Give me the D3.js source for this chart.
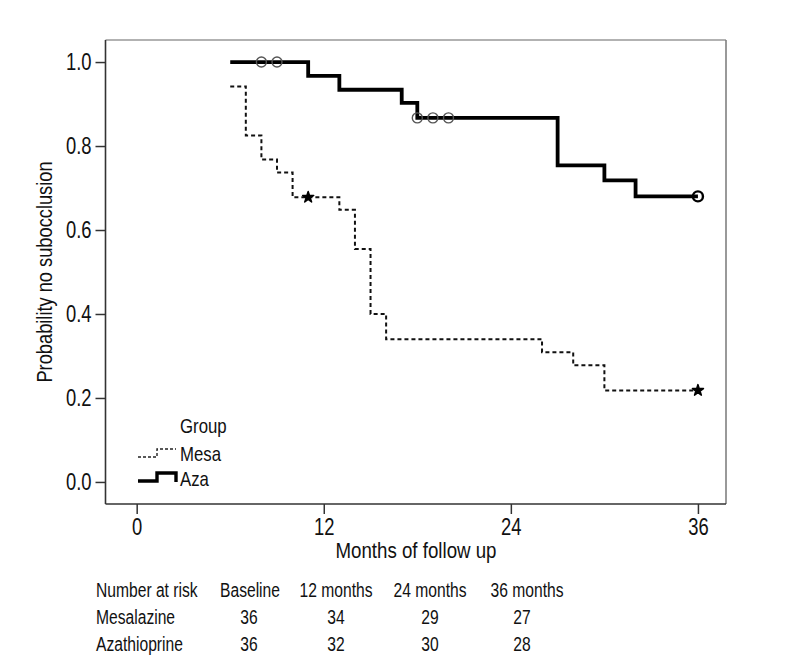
<!DOCTYPE html>
<html>
<head>
<meta charset="utf-8">
<script src="https://cdn.jsdelivr.net/npm/d3@7"></script>
<style>
  body { margin: 0; background: #fff; }
  svg { display: block; }
  text { font-family: "Liberation Sans", Arial, sans-serif; fill: #111; }
</style>
</head>
<body>
<svg id="chart" width="792" height="672"></svg>
<script>
// ---- data ----
const xTicks = [0, 12, 24, 36];
const yTicks = [0.0, 0.2, 0.4, 0.6, 0.8, 1.0];

const azaTimes = [6, 11, 13, 17, 18, 27, 30, 32, 36];
const azaSurv  = [1.0, 0.967, 0.934, 0.903, 0.867, 0.754, 0.718, 0.680, 0.680];
const azaCensorTimes = [8, 9, 18, 19, 20, 36];
const azaCensorSurv  = [1.0, 1.0, 0.867, 0.867, 0.867, 0.680];

const mesaTimes = [6, 7, 8, 9, 10, 13, 14, 15, 16, 26, 28, 30, 36];
const mesaSurv  = [0.942, 0.825, 0.768, 0.737, 0.678, 0.648, 0.555, 0.400, 0.340, 0.309, 0.278, 0.218, 0.218];
const mesaCensorTimes = [11, 36];
const mesaCensorSurv  = [0.678, 0.218];

const legendTitle = "Group";
const legendLabels = ["Mesa", "Aza"];

const riskHeaderLabel = "Number at risk";
const riskColumns = ["Baseline", "12 months", "24 months", "36 months"];
const riskGroups = ["Mesalazine", "Azathioprine"];
const riskMesalazine = [36, 34, 29, 27];
const riskAzathioprine = [36, 32, 30, 28];

const xTitle = "Months of follow up";
const yTitle = "Probability no subocclusion";

// ---- helpers ----
// emulate a condensed typeface: scale each text horizontally about its anchor x
function condense(sel, k) {
  sel.each(function () {
    const ax = +(this.getAttribute("x") || 0);
    const prev = this.getAttribute("transform") || "";
    d3.select(this).attr("transform",
      `${prev} translate(${ax},0) scale(${k},1) translate(${-ax},0)`.trim());
  });
}

// ---- layout ----
const svg = d3.select("#chart");
const L = 105.5, R = 726, T = 40, B = 504;

const x = d3.scaleLinear().domain([-2, 37.8]).range([L, R]);
const y = d3.scaleLinear().domain([-0.0525, 1.0525]).range([B, T]);

// frame
svg.append("line").attr("x1", L).attr("x2", R).attr("y1", T).attr("y2", T)
  .attr("stroke", "#999").attr("stroke-width", 1.5);
svg.append("line").attr("x1", R).attr("x2", R).attr("y1", T).attr("y2", B)
  .attr("stroke", "#777").attr("stroke-width", 1.5);

// axes
const yAxis = d3.axisLeft(y).tickValues(yTicks).tickFormat(d3.format(".1f"))
  .tickSize(10).tickPadding(4);
const gy = svg.append("g").attr("transform", `translate(${L},0)`).call(yAxis);
gy.select(".domain").attr("stroke", "#333").attr("stroke-width", 1.6).attr("d", `M0,${T}V${B}`);
gy.selectAll(".tick line").attr("stroke", "#333").attr("stroke-width", 1.5);
gy.selectAll(".tick text").style("font-size", "23px").attr("fill", "#111")
  .style("font-family", '"Liberation Sans", Arial, sans-serif');
condense(gy.selectAll(".tick text"), 0.80);

const xAxis = d3.axisBottom(x).tickValues(xTicks).tickFormat(d3.format("d"))
  .tickSize(10).tickPadding(5);
const gx = svg.append("g").attr("transform", `translate(0,${B})`).call(xAxis);
gx.select(".domain").attr("stroke", "#333").attr("stroke-width", 1.6).attr("d", `M${L},0H${R}`);
gx.selectAll(".tick line").attr("stroke", "#333").attr("stroke-width", 1.5);
gx.selectAll(".tick text").style("font-size", "23px").attr("fill", "#111")
  .style("font-family", '"Liberation Sans", Arial, sans-serif');
condense(gx.selectAll(".tick text"), 0.80);

// axis titles
const xt = svg.append("text").attr("x", 416).attr("y", 558)
  .attr("text-anchor", "middle").style("font-size", "22px").text(xTitle);
const yt = svg.append("text").attr("transform", "translate(52,272) rotate(-90)")
  .attr("text-anchor", "middle").style("font-size", "22px").text(yTitle);
condense(xt, 0.85);
condense(yt, 0.83);

// curves
const line = d3.line().curve(d3.curveStepAfter).x(d => x(d[0])).y(d => y(d[1]));
const mesaPts = mesaTimes.map((t, i) => [t, mesaSurv[i]]);
const azaPts = azaTimes.map((t, i) => [t, azaSurv[i]]);

svg.append("path").attr("d", line(mesaPts)).attr("fill", "none")
  .attr("stroke", "#111").attr("stroke-width", 2).attr("stroke-dasharray", "4,3");
svg.append("path").attr("d", line(azaPts)).attr("fill", "none")
  .attr("stroke", "#000").attr("stroke-width", 3.8).attr("stroke-linejoin", "miter");

// censor marks
svg.selectAll(".azac").data(azaCensorTimes.map((t, i) => [t, azaCensorSurv[i]]))
  .enter().append("circle")
  .attr("cx", d => x(d[0])).attr("cy", d => y(d[1])).attr("r", 5)
  .attr("fill", "none").attr("stroke", (d, i) => i === azaCensorTimes.length - 1 ? "#000" : "#555")
  .attr("stroke-width", (d, i) => i === azaCensorTimes.length - 1 ? 2.4 : 1.4);

const star = d3.symbol().type(d3.symbolStar).size(38);
svg.selectAll(".mesac").data(mesaCensorTimes.map((t, i) => [t, mesaCensorSurv[i]]))
  .enter().append("path")
  .attr("d", star).attr("transform", d => `translate(${x(d[0])},${y(d[1])})`)
  .attr("fill", "#000").attr("stroke", "#000").attr("stroke-width", 1.5).attr("stroke-linejoin", "round");

// legend
const lg = svg.append("g").style("font-size", "20px");
lg.append("text").attr("x", 180).attr("y", 433).text(legendTitle);
lg.append("path").attr("d", "M138,457H157V449H176").attr("fill", "none")
  .attr("stroke", "#222").attr("stroke-width", 1.4).attr("stroke-dasharray", "3,2");
lg.append("text").attr("x", 180).attr("y", 461).text(legendLabels[0]);
lg.append("path").attr("d", "M138,481H157V473H176V482").attr("fill", "none")
  .attr("stroke", "#000").attr("stroke-width", 3.4);
lg.append("text").attr("x", 180).attr("y", 486).text(legendLabels[1]);
condense(lg.selectAll("text"), 0.84);

// number at risk table
const colX = [250, 336, 430, 527];
const valX = [249, 336, 430, 522];
const tbl = svg.append("g").style("font-size", "21px");
tbl.append("text").attr("x", 96).attr("y", 597).text(riskHeaderLabel);
riskColumns.forEach((c, i) => {
  tbl.append("text").attr("x", colX[i]).attr("y", 597).attr("text-anchor", "middle").text(c);
});
const rows = [riskMesalazine, riskAzathioprine];
const rowY = [624, 651];
riskGroups.forEach((g, r) => {
  tbl.append("text").attr("x", 96).attr("y", rowY[r]).text(g);
  rows[r].forEach((v, i) => {
    tbl.append("text").attr("x", valX[i]).attr("y", rowY[r]).attr("text-anchor", "middle").text(v);
  });
});
condense(tbl.selectAll("text"), 0.745);
</script>
</body>
</html>
